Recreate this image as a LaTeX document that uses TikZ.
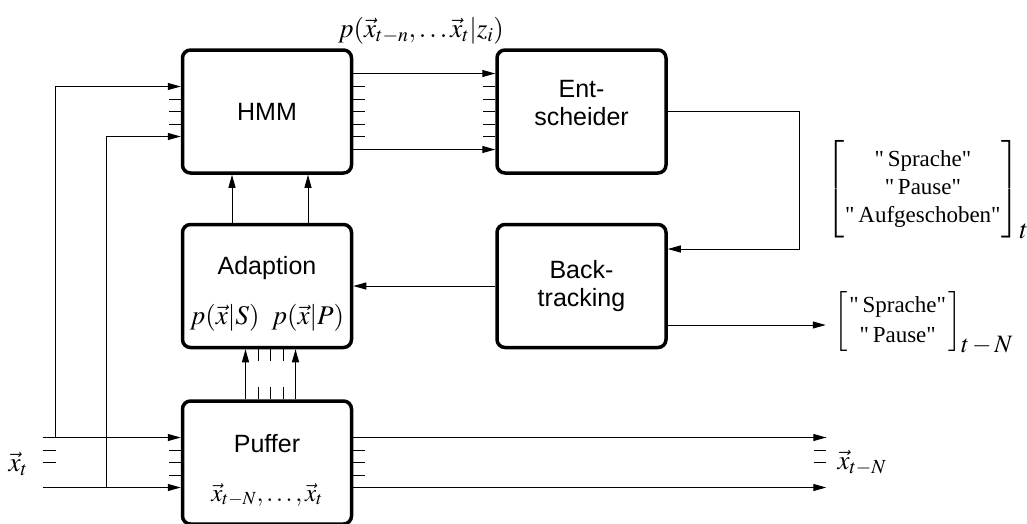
\documentclass[tikz,border=0pt]{standalone}
\usepackage{amsmath}
\usepackage{mathptmx}
\usepackage{fontspec}
\setmainfont{Liberation Serif}
\setsansfont{Liberation Sans}
\usetikzlibrary{positioning,arrows.meta}

\newcommand{\qw}[1]{\text{\fontsize{23}{28}\selectfont\textquotedbl\,#1\textquotedbl}}

\tikzset{
  block/.style={draw, line width=3.5pt, rounded corners=8pt,
    minimum width=169pt, minimum height=123pt, inner sep=0pt,
    align=center, font=\sffamily\fontsize{25}{28}\selectfont},
  arr/.style={line width=1pt, -{Triangle[length=13pt,width=7pt]}},
  wire/.style={line width=1pt},
  mlbl/.style={inner sep=0pt, font=\fontsize{27}{28}\selectfont},
}

\begin{document}
\begin{tikzpicture}[x=1pt, y=-1pt, node distance=48pt and 142pt]
    \clip (0,0) rectangle (1027,523);
    % blocks
    \node[block] (hmm) at (267,111.5) {HMM};
    \node[block, right=of hmm] (ent) {Ent-\\scheider\\[-10pt]\mbox{}};
    \node[block, below=of hmm, text height=76pt, text depth=0pt] (adp)
      {Adaption\\[22pt]{\fontsize{27}{28}\selectfont$p(\vec{x}|S)\;\;p(\vec{x}|P)$}};
    \node[block, below=of ent] (back) {Back-\\tracking};
    \node[block, below=50pt of adp, text height=77pt, text depth=0pt] (puf)
      {Puffer\\[21pt]$\vec{x}_{t-N},\ldots,\vec{x}_t$};
    % end points of the signal lines
    \path ([yshift=25pt]puf.west) ++(-138,0) coordinate (in1);
    \path ([yshift=-25pt]puf.west) ++(-138,0) coordinate (in2);
    \path (in1) ++(13,0) coordinate (br1);
    \path (in2) ++(64,0) coordinate (br2);
    \path ([yshift=25pt]puf.east) ++(473,0) coordinate (out1);
    \path ([yshift=-25pt]puf.east) ++(473,0) coordinate (out2);
    \path ([yshift=-39pt]back.east) ++(158,0) coordinate (out3);
    % labels
    \node[mlbl] (lik) at (421,31) {$p(\vec{x}_{t-n},\ldots\vec{x}_t|z_i)$};
    \node[mlbl] (xt) at (18,464) {$\vec{x}_t$};
    \node[mlbl] (xtn) at (862,463) {$\vec{x}_{t-N}$};
    \node[mlbl, anchor=base west] (dec) at (826,196)
      {\delimitershortfall=-2pt\arraycolsep=1pt$\left[\begin{array}{c}\qw{Sprache}\\ \qw{Pause}\\ \qw{Aufgeschoben}\end{array}\right]_{\textstyle t}$};
    \node[mlbl, anchor=base west, font=\fontsize{25}{30}\selectfont] (res) at (834,328)
      {\arraycolsep=2pt$\left[\begin{array}{c}\qw{Sprache}\\ \qw{Pause}\end{array}\right]_{\textstyle t\,{-}\,N}$};
    % buses
    \foreach \s in {38,-38}
      \draw[arr] ([yshift=\s pt]hmm.east) -- ([yshift=\s pt]ent.west);
    \foreach \s in {-25,-12.5,0,12.5,25} {
      \draw[wire] ([yshift=\s pt]hmm.east) -- ++(12,0);
      \draw[wire] ([yshift=\s pt]ent.west) -- ++(-12,0);
    }
    \draw[arr] (in1) -- ([yshift=25pt]puf.west);
    \draw[arr] (in2) -- ([yshift=-25pt]puf.west);
    \draw[arr] (br1) |- ([yshift=25pt]hmm.west);
    \draw[arr] (br2) |- ([yshift=-25pt]hmm.west);
    \draw[arr] ([yshift=25pt]puf.east) -- (out1);
    \draw[arr] ([yshift=-25pt]puf.east) -- (out2);
    \foreach \s in {-12.5,0,12.5} {
      \draw[wire] ([yshift=\s pt]hmm.west) -- ++(-12,0);
      \draw[wire] ([yshift=\s pt]puf.west) -- ++(-12,0);
      \draw[wire] ([yshift=\s pt]puf.east) -- ++(12,0);
      \draw[wire] ([yshift=\s pt]in1) ++(0,12.5) -- ++(13,0);
      \draw[wire] ([yshift=\s pt]out1) ++(0,12.5) -- ++(-12,0);
    }
    \foreach \s in {-35,41}
      \draw[arr] ([xshift=\s pt]adp.north) -- ([xshift=\s pt]hmm.south);
    \foreach \s in {-21.5,28.5}
      \draw[arr] ([xshift=\s pt]puf.north) -- ([xshift=\s pt]adp.south);
    \foreach \s in {-9,3.5,16} {
      \draw[wire] ([xshift=\s pt]adp.south) -- ++(0,12);
      \draw[wire] ([xshift=\s pt]puf.north) -- ++(0,-12);
    }
    % decision feedback
    \draw[arr] (ent.east) -- ++(132,0) |- ([yshift=37pt]back.east);
    \draw[arr] (back.west) -- (adp.east);
    \draw[arr] ([yshift=-39pt]back.east) -- (out3);
\end{tikzpicture}
\end{document}
